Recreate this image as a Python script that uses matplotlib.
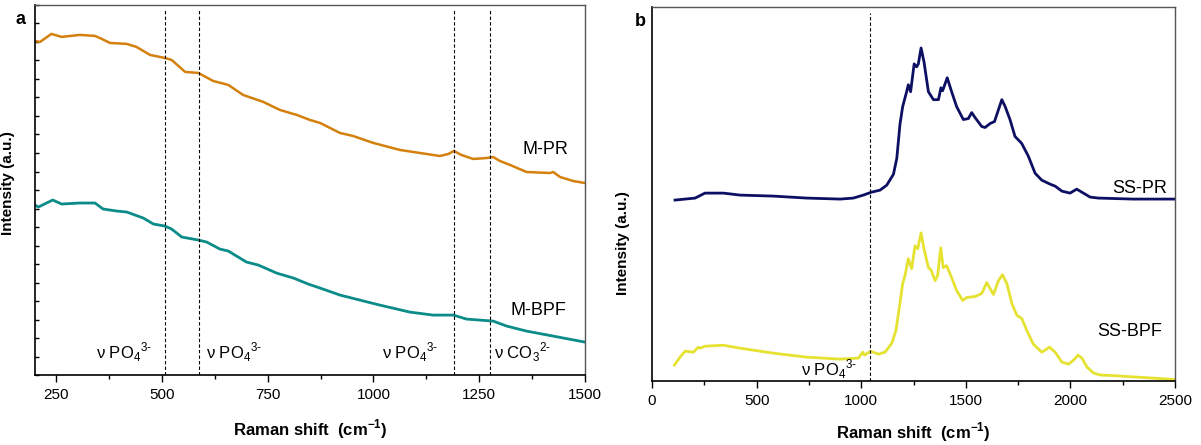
import matplotlib
matplotlib.use("Agg")
import matplotlib.pyplot as plt
from matplotlib.ticker import MultipleLocator

plt.rcParams["font.family"] = ["Liberation Sans", "DejaVu Sans"]
plt.rcParams["mathtext.fontset"] = "custom"
plt.rcParams["mathtext.rm"] = "Liberation Sans"
plt.rcParams["mathtext.bf"] = "Liberation Sans:bold"

# ── Panel a: Raman spectra (arbitrary intensity units) ────────────────────────
mpr_x = [200, 212, 239, 263, 306, 342, 358, 377, 417, 440, 472, 507, 523, 555,
         586, 621, 657, 692, 740, 779, 819, 850, 874, 921, 952, 1000, 1063,
         1110, 1157, 1177, 1190, 1208, 1236, 1268, 1283, 1299, 1323, 1362,
         1417, 1425, 1441, 1472, 1500]
mpr_y = [334, 333, 341, 338, 340, 339, 336, 332, 331, 328, 320, 317, 315, 303,
         302, 294, 290, 280, 273, 265, 260, 255, 252, 242, 239, 232, 225,
         222, 219, 221, 224, 220, 216, 217, 218, 214, 210, 203,
         202, 203, 198, 194, 192]

mbpf_x = [200, 208, 242, 263, 306, 342, 361, 393, 417, 456, 480, 507, 523, 547,
          586, 606, 637, 657, 700, 728, 771, 811, 846, 874, 921, 968, 1015,
          1086, 1141, 1189, 1220, 1252, 1283, 1315, 1362, 1425, 1500]
mbpf_y = [170, 168, 175, 171, 172, 172, 166, 164, 163, 157, 151, 149, 146, 138,
          135, 133, 126, 124, 113, 110, 102, 97, 91, 87, 80, 75, 70,
          63, 60, 60, 56, 55, 54, 49, 44, 39, 33]

a_lines = [508, 587, 1190, 1276]
a_notes = [(345, "ν PO$_4$$^{3\\text{-}}$"), (605, "ν PO$_4$$^{3\\text{-}}$"),
           (1020, "ν PO$_4$$^{3\\text{-}}$"), (1285, "ν CO$_3$$^{2\\text{-}}$")]

# ── Panel b ───────────────────────────────────────────────────────────────────
sspr_x = [110, 206, 253, 341, 421, 580, 740, 899, 962, 1010, 1050, 1090, 1122,
          1154, 1170, 1185, 1198, 1217, 1225, 1236, 1253, 1265, 1273, 1286,
          1300, 1321, 1345, 1369, 1381, 1389, 1411, 1432, 1456, 1488, 1512,
          1528, 1544, 1576, 1592, 1616, 1637, 1656, 1672, 1688, 1711, 1735,
          1767, 1799, 1831, 1863, 1903, 1927, 1959, 1998, 2030, 2062, 2094,
          2134, 2300, 2500]
sspr_y = [182, 184, 189, 189, 187, 186, 184, 183, 184, 187, 190, 192, 197,
          208, 224, 258, 276, 291, 298, 291, 319, 316, 319, 335,
          321, 291, 283, 283, 295, 292, 305, 291, 276, 263, 264,
          270, 265, 256, 255, 259, 261, 273, 283, 276, 263, 246,
          239, 226, 209, 202, 198, 196, 191, 189, 193, 189, 185,
          184, 183, 183]

ssbpf_x = [107, 134, 158, 198, 221, 229, 253, 341, 421, 580, 740, 899, 986,
           1007, 1015, 1045, 1082, 1114, 1146, 1166, 1185, 1198, 1209, 1225,
           1241, 1257, 1270, 1286, 1300, 1321, 1333, 1353, 1365, 1380, 1392,
           1408, 1432, 1456, 1485, 1504, 1544, 1576, 1600, 1616, 1632, 1656,
           1675, 1696, 1720, 1744, 1767, 1791, 1823, 1863, 1900, 1927, 1959,
           1991, 2015, 2036, 2055, 2079, 2111, 2142, 2200, 2350, 2500]
ssbpf_y = [16, 24, 30, 29, 34, 33, 35, 36, 33, 28, 24, 22, 23,
           29, 26, 30, 27, 29, 38, 51, 78, 98, 106, 123,
           113, 136, 133, 149, 133, 114, 112, 101, 106, 134, 114,
           116, 104, 91, 81, 84, 85, 88, 99, 93, 87, 101,
           107, 98, 78, 66, 63, 51, 37, 29, 34, 29, 19,
           17, 21, 26, 23, 14, 8, 6, 5.5, 3.5, 1.5]

b_line = 1040

ORANGE = "#D4800C"
TEAL = "#0B8C89"
NAVY = "#0D0F63"
YELLOW = "#E6E232"
DASH = (0, (3, 2))


def style_axes(ax):
    for side in ("left", "bottom"):
        ax.spines[side].set_color("black")
        ax.spines[side].set_linewidth(1.2)
    for side in ("top", "right"):
        ax.spines[side].set_color("#555555")
        ax.spines[side].set_linewidth(1.0)
    ax.tick_params(axis="x", which="major", direction="out", length=5,
                   width=1, labelsize=11, pad=4)
    ax.tick_params(axis="x", which="minor", direction="out", length=3, width=1)
    ax.set_yticklabels([])


fig = plt.figure(figsize=(12.01, 4.45), dpi=100)
ax1 = fig.add_axes([0.0291, 0.157, 0.458, 0.832])
ax2 = fig.add_axes([0.5429, 0.1438, 0.4355, 0.840])

# ── a ──
ax1.plot(mpr_x, mpr_y, color=ORANGE, lw=1.8)
ax1.plot(mbpf_x, mbpf_y, color=TEAL, lw=2.0)
for xv in a_lines:
    ax1.axvline(xv, ymin=0, ymax=0.985, color="black", lw=0.8, ls=DASH)
for xv, txt in a_notes:
    ax1.text(xv, 17, txt, fontsize=12, ha="left", va="baseline")
ax1.text(1353, 225, "M-PR", fontsize=13, va="center")
ax1.text(1324, 65, "M-BPF", fontsize=13, va="center")
ax1.set_xlim(200, 1500)
ax1.set_ylim(0, 370)
ax1.xaxis.set_major_locator(MultipleLocator(250))
ax1.xaxis.set_minor_locator(MultipleLocator(125))
ax1.yaxis.set_major_locator(MultipleLocator(37))
ax1.yaxis.set_minor_locator(MultipleLocator(18.5))
ax1.tick_params(axis="y", which="both", direction="in", length=3, width=1,
                left=True)
style_axes(ax1)
ax1.set_xlabel("Raman shift  (cm$^{\\mathbf{-1}}$)", fontsize=12,
               fontweight="bold", labelpad=11)
ax1.set_ylabel("Intensity (a.u.)", fontsize=11, fontweight="bold")
ax1.yaxis.set_label_coords(-0.036, 0.52)
fig.text(20 / 1201, 1 - 20 / 445, "a", fontsize=13, fontweight="bold",
         ha="center", va="center")

# ── b ──
ax2.plot(sspr_x, sspr_y, color=NAVY, lw=2.0)
ax2.plot(ssbpf_x, ssbpf_y, color=YELLOW, lw=2.0)
ax2.axvline(b_line, ymin=0, ymax=0.985, color="black", lw=0.8, ls=DASH)
ax2.text(712, 6, "ν PO$_4$$^{3\\text{-}}$", fontsize=12, ha="left",
         va="baseline")
ax2.text(2199, 194, "SS-PR", fontsize=13, va="center")
ax2.text(2127, 50, "SS-BPF", fontsize=13, va="center")
ax2.set_xlim(0, 2500)
ax2.set_ylim(0, 376)
ax2.xaxis.set_major_locator(MultipleLocator(500))
ax2.xaxis.set_minor_locator(MultipleLocator(250))
ax2.set_yticks([])
style_axes(ax2)
ax2.set_xlabel("Raman shift  (cm$^{\\mathbf{-1}}$)", fontsize=12,
               fontweight="bold", labelpad=9)
ax2.set_ylabel("Intensity (a.u.)", fontsize=11, fontweight="bold")
ax2.yaxis.set_label_coords(-0.042, 0.37)
fig.text(640 / 1201, 1 - 22 / 445, "b", fontsize=13, fontweight="bold",
         ha="center", va="center")

fig.savefig("out.png", dpi=100)
